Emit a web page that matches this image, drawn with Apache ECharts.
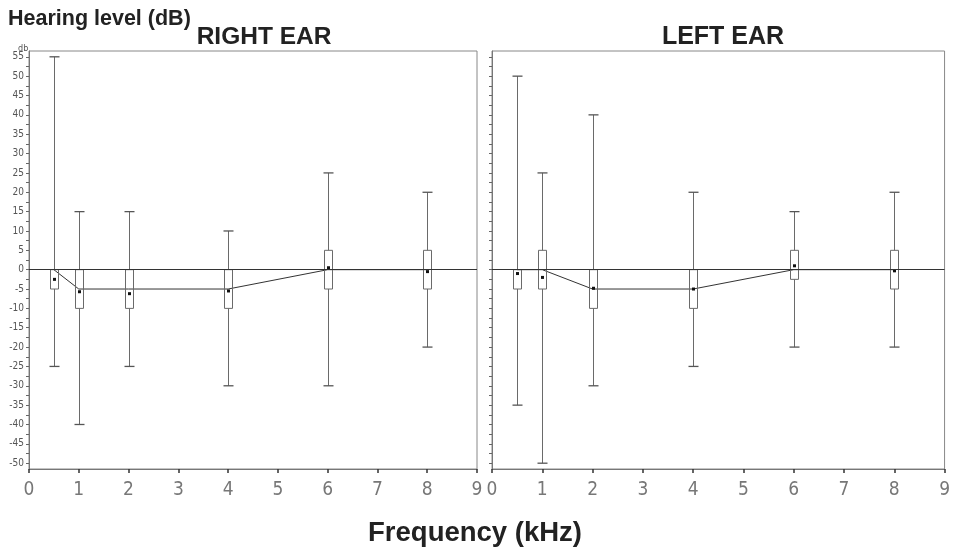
<!DOCTYPE html>
<html>
<head>
<meta charset="utf-8">
<script src="https://cdn.jsdelivr.net/npm/echarts@6/dist/echarts.min.js"></script>
<style>
html,body{margin:0;padding:0;background:#fff;}
#chart{width:953px;height:548px;}
</style>
</head>
<body>
<div id="chart"></div>
<script>
// ---- data ----
const freqs = [0.5, 1, 2, 4, 6, 8];
const xTicks = [0, 1, 2, 3, 4, 5, 6, 7, 8, 9];
const yTickLabels = [-50, -45, -40, -35, -30, -25, -20, -15, -10, -5, 0, 5, 10, 15, 20, 25, 30, 35, 40, 45, 50, 55];
const yMinorTicks = [-50, -47.5, -45, -42.5, -40, -37.5, -35, -32.5, -30, -27.5, -25, -22.5, -20, -17.5, -15, -12.5, -10, -7.5, -5, -2.5, 0, 2.5, 5, 7.5, 10, 12.5, 15, 17.5, 20, 22.5, 25, 27.5, 30, 32.5, 35, 37.5, 40, 42.5, 45, 47.5, 50, 52.5, 55];

const rightMin  = [-25, -40, -25, -30, -30, -20];
const rightQ1   = [-5, -10, -10, -10, -5, -5];
const rightMed  = [0, -5, -5, -5, 0, 0];
const rightQ3   = [0, 0, 0, 0, 5, 5];
const rightMax  = [55, 15, 15, 10, 25, 20];
const rightMean = [-2.5, -5.7, -6.2, -5.5, 0.5, -0.5];

const leftMin  = [-35, -50, -30, -25, -20, -20];
const leftQ1   = [-5, -5, -10, -10, -2.5, -5];
const leftMed  = [0, 0, -5, -5, 0, 0];
const leftQ3   = [0, 5, 0, 0, 5, 5];
const leftMax  = [50, 25, 40, 20, 15, 20];
const leftMean = [-1, -2, -4.8, -5, 1, -0.3];

// ---- build ----
function boxData(mn, q1, md, q3, mx, mean) {
  return freqs.map((f, i) => [f, mn[i], q1[i], md[i], q3[i], mx[i], mean[i]]);
}
function medData(md) { return freqs.map((f, i) => [f, md[i]]); }

const LINE = '#6a6a6a';
function renderBox(params, api) {
  const x = api.value(0);
  const pMin = api.coord([x, api.value(1)]);
  const pQ1 = api.coord([x, api.value(2)]);
  const pQ3 = api.coord([x, api.value(4)]);
  const pMax = api.coord([x, api.value(5)]);
  const pMean = api.coord([x, api.value(6)]);
  const cx = Math.round(pMin[0]) + 0.5;
  const bw = 8, cw = 10;
  const st = { stroke: LINE, lineWidth: 1, fill: null };
  return {
    type: 'group',
    children: [
      { type: 'line', shape: { x1: cx, y1: pMax[1], x2: cx, y2: pQ3[1] }, style: st },
      { type: 'line', shape: { x1: cx, y1: pQ1[1], x2: cx, y2: pMin[1] }, style: st },
      { type: 'line', shape: { x1: cx - cw / 2, y1: pMax[1], x2: cx + cw / 2, y2: pMax[1] }, style: { stroke: '#555', lineWidth: 1.3 } },
      { type: 'line', shape: { x1: cx - cw / 2, y1: pMin[1], x2: cx + cw / 2, y2: pMin[1] }, style: { stroke: '#555', lineWidth: 1.3 } },
      { type: 'rect', shape: { x: cx - bw / 2, y: pQ3[1], width: bw, height: pQ1[1] - pQ3[1] }, style: { stroke: LINE, lineWidth: 1, fill: 'rgba(255,255,255,0)' } },
      { type: 'rect', shape: { x: cx - 1.5, y: pMean[1] - 1.5, width: 3, height: 3 }, style: { fill: '#111' } }
    ]
  };
}

const gridTop = 51, gridBottom = 79;
const chart = echarts.init(document.getElementById('chart'), null, { renderer: 'canvas' });

function xAxisDef(gi) {
  return {
    type: 'value', gridIndex: gi, min: 0, max: 9, interval: 1,
    axisLine: { show: true, onZero: false, lineStyle: { color: '#777', width: 1 } },
    axisTick: { show: true, inside: false, length: 4, lineStyle: { color: '#333', width: 1.5 } },
    axisLabel: { show: true, margin: 12, color: '#777', fontSize: 19, fontFamily: 'Liberation Sans Narrow, DejaVu Sans Condensed, sans-serif', fontWeight: 'lighter' },
    splitLine: { show: false }
  };
}
function yAxisDef(gi, showLabels) {
  return {
    type: 'value', gridIndex: gi, min: -51.5, max: 56.5,
    axisLine: { show: true, onZero: false, lineStyle: { color: '#777', width: 1 } },
    axisTick: { show: true, inside: false, length: 3, customValues: yMinorTicks, lineStyle: { color: '#666', width: 1 } },
    axisLabel: { show: showLabels, customValues: yTickLabels, margin: 5, color: '#555', fontSize: 10, fontFamily: 'DejaVu Sans Condensed, Liberation Sans Narrow, sans-serif' },
    splitLine: { show: false }
  };
}

function panelSeries(gi, mn, q1, md, q3, mx, mean) {
  return [
    {
      type: 'line', xAxisIndex: gi, yAxisIndex: gi, data: medData(md),
      symbol: 'none', lineStyle: { color: '#333', width: 1 }, z: 3, silent: true,
      markLine: { silent: true, symbol: 'none', label: { show: false }, lineStyle: { color: '#333', width: 1, type: 'solid' }, data: [{ yAxis: 0 }] }
    },
    {
      type: 'custom', xAxisIndex: gi, yAxisIndex: gi, data: boxData(mn, q1, md, q3, mx, mean),
      renderItem: renderBox, encode: { x: 0, y: [1, 5] }, z: 4, silent: true
    }
  ];
}

const option = {
  animation: false,
  backgroundColor: '#fff',
  title: [
    { text: 'Hearing level (dB)', left: 3, top: 3, textStyle: { fontFamily: 'Liberation Sans, Arial, sans-serif', fontWeight: 'bold', fontSize: 21.5, color: '#222' } },
    { text: 'RIGHT EAR', left: 259, top: 20, textAlign: 'center', textStyle: { fontFamily: 'Liberation Sans, Arial, sans-serif', fontWeight: 'bold', fontSize: 24.5, color: '#222' } },
    { text: 'LEFT EAR', left: 718, top: 20, textAlign: 'center', textStyle: { fontFamily: 'Liberation Sans, Arial, sans-serif', fontWeight: 'bold', fontSize: 25, color: '#222' } },
    { text: 'Frequency (kHz)', left: 470, top: 514, textAlign: 'center', textStyle: { fontFamily: 'Liberation Sans, Arial, sans-serif', fontWeight: 'bold', fontSize: 27.5, color: '#222' } },
    { text: 'db', left: 13, top: 39, textStyle: { fontFamily: 'DejaVu Sans Condensed, sans-serif', fontWeight: 'normal', fontSize: 9, color: '#555' } }
  ],
  grid: [
    { left: 29, right: 953 - 477, top: gridTop, bottom: gridBottom, show: true, borderColor: '#888', borderWidth: 1, backgroundColor: 'transparent' },
    { left: 492, right: 953 - 947, top: gridTop, bottom: gridBottom, show: true, borderColor: '#888', borderWidth: 1, backgroundColor: 'transparent' }
  ],
  xAxis: [xAxisDef(0), xAxisDef(1)],
  yAxis: [yAxisDef(0, true), yAxisDef(1, false)],
  series: [].concat(
    panelSeries(0, rightMin, rightQ1, rightMed, rightQ3, rightMax, rightMean),
    panelSeries(1, leftMin, leftQ1, leftMed, leftQ3, leftMax, leftMean)
  )
};
chart.setOption(option);
</script>
</body>
</html>
